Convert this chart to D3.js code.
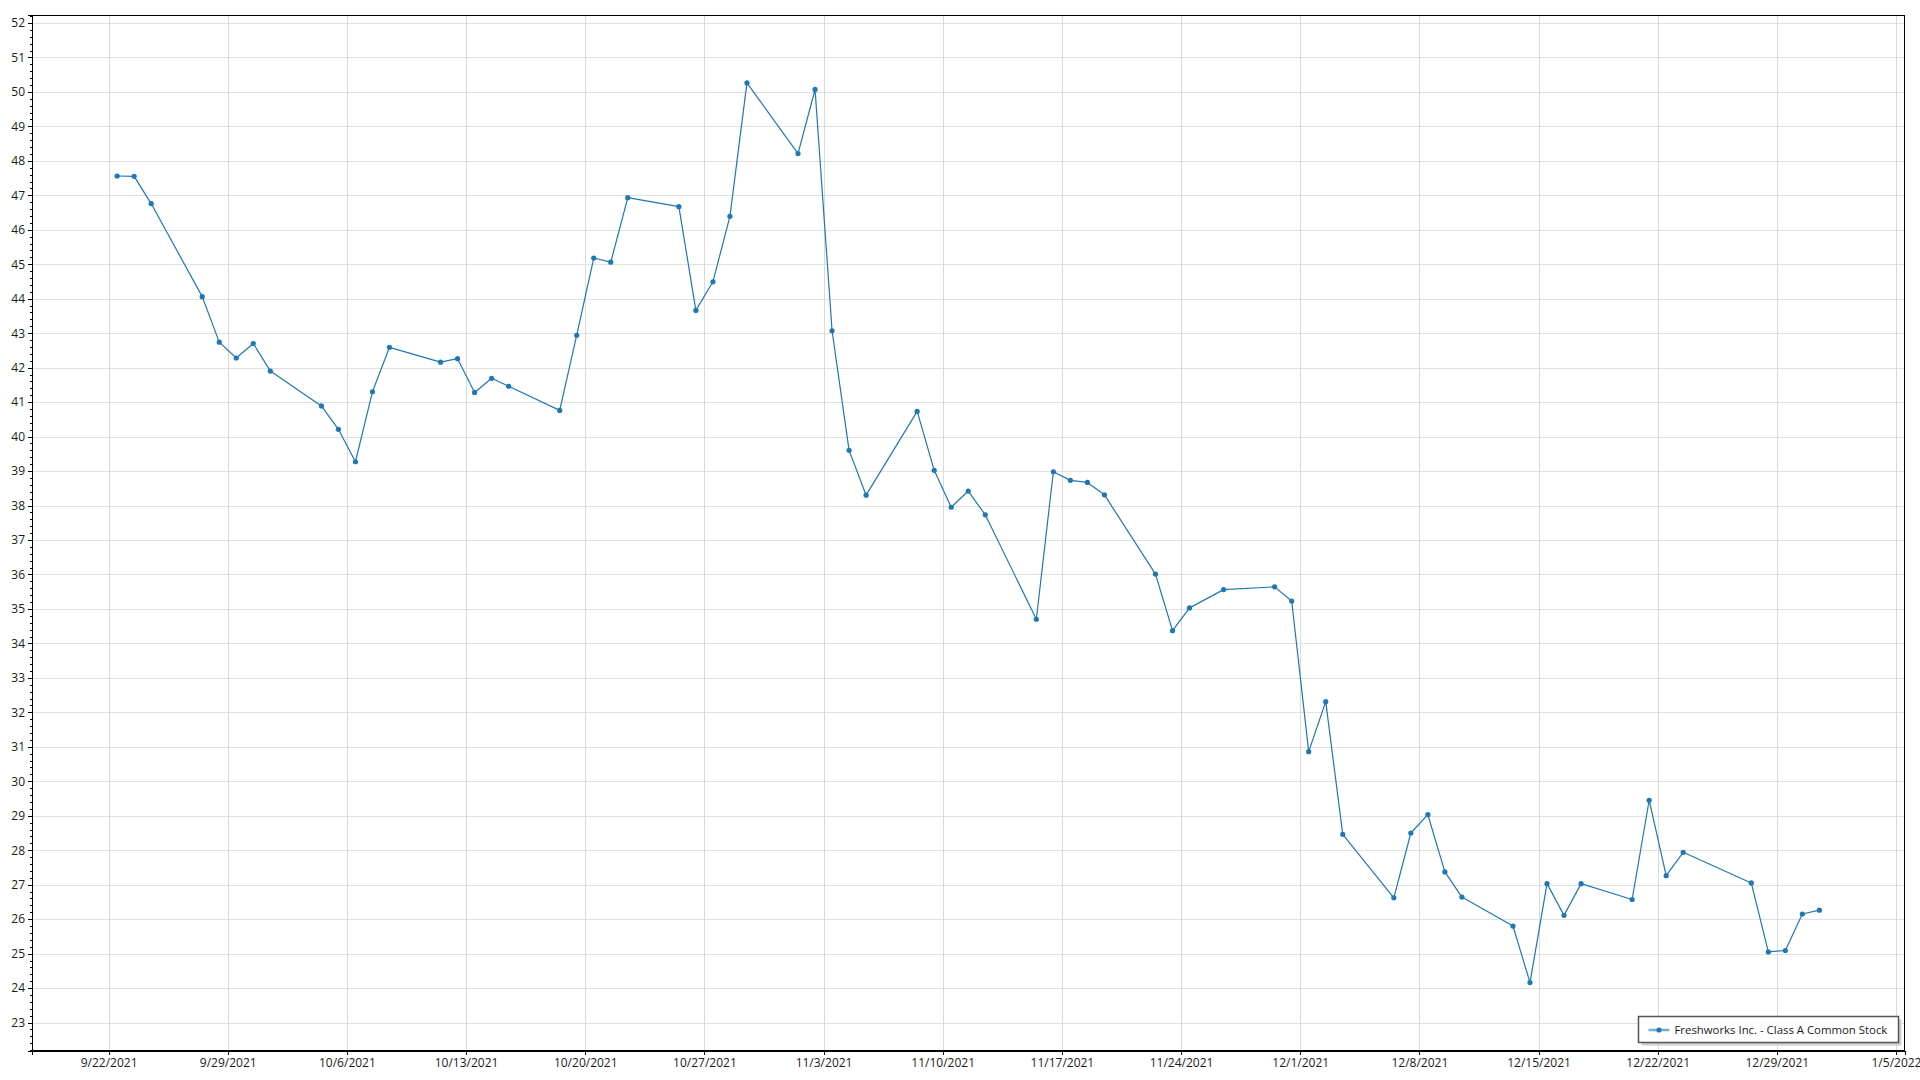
<!DOCTYPE html>
<html>
<head>
<meta charset="utf-8">
<script src="https://cdn.jsdelivr.net/npm/d3@7"></script>
<style>
  html, body { margin: 0; padding: 0; background: #fff; }
  svg { display: block; }
  text { font-family: "Segoe UI", "Open Sans", "Noto Sans", sans-serif; fill: #1a1a1a; }
</style>
</head>
<body>
<svg id="chart" width="1920" height="1080"></svg>
<script>
// ---- data ----
const seriesName = "Freshworks Inc. - Class A Common Stock";
const dates = [
  "2021-09-22","2021-09-23","2021-09-24","2021-09-27","2021-09-28","2021-09-29","2021-09-30","2021-10-01",
  "2021-10-04","2021-10-05","2021-10-06","2021-10-07","2021-10-08","2021-10-11","2021-10-12","2021-10-13",
  "2021-10-14","2021-10-15","2021-10-18","2021-10-19","2021-10-20","2021-10-21","2021-10-22","2021-10-25",
  "2021-10-26","2021-10-27","2021-10-28","2021-10-29","2021-11-01","2021-11-02","2021-11-03","2021-11-04",
  "2021-11-05","2021-11-08","2021-11-09","2021-11-10","2021-11-11","2021-11-12","2021-11-15","2021-11-16",
  "2021-11-17","2021-11-18","2021-11-19","2021-11-22","2021-11-23","2021-11-24","2021-11-26","2021-11-29",
  "2021-11-30","2021-12-01","2021-12-02","2021-12-03","2021-12-06","2021-12-07","2021-12-08","2021-12-09",
  "2021-12-10","2021-12-13","2021-12-14","2021-12-15","2021-12-16","2021-12-17","2021-12-20","2021-12-21",
  "2021-12-22","2021-12-23","2021-12-27","2021-12-28","2021-12-29","2021-12-30","2021-12-31"
];
const prices = [
  47.56, 47.55, 46.76, 44.06, 42.74, 42.28, 42.70, 41.90,
  40.89, 40.21, 39.27, 41.30, 42.59, 42.16, 42.26, 41.28,
  41.69, 41.46, 40.76, 42.94, 45.18, 45.06, 46.93, 46.67,
  43.66, 44.49, 46.39, 50.26, 48.21, 50.07, 43.07, 39.60,
  38.30, 40.73, 39.02, 37.95, 38.42, 37.73, 34.70, 38.98,
  38.73, 38.67, 38.31, 36.01, 34.37, 35.03, 35.56, 35.64,
  35.23, 30.86, 32.31, 28.46, 26.62, 28.50, 29.03, 27.37,
  26.64, 25.80, 24.16, 27.03, 26.11, 27.03, 26.57, 29.45,
  27.26, 27.94, 27.05, 25.05, 25.09, 26.15, 26.26
];
const xTickDates = [
  "2021-09-22","2021-09-29","2021-10-06","2021-10-13","2021-10-20","2021-10-27","2021-11-03","2021-11-10",
  "2021-11-17","2021-11-24","2021-12-01","2021-12-08","2021-12-15","2021-12-22","2021-12-29","2022-01-05"
];
const yTickValues = d3.range(23, 53, 1);

// ---- layout ----
const W = 1920, H = 1080;
const plot = { left: 32, top: 15, right: 1904.5, bottom: 1050.5 };
const color = "#1f77b4";

const parse = d3.timeParse("%Y-%m-%d");
const data = dates.map((d, i) => ({ t: d3.timeHour.offset(parse(d), 12), v: prices[i] }));

const tMin = d3.min(data, d => d.t), tMax = d3.max(data, d => d.t);
const tPad = (tMax - tMin) * 0.05;
const x = d3.scaleTime()
  .domain([new Date(+tMin - tPad), new Date(+tMax + tPad)])
  .range([plot.left, plot.right]);

const vMin = d3.min(prices), vMax = d3.max(prices);
const vPad = (vMax - vMin) * 0.0755;
const y = d3.scaleLinear()
  .domain([vMin - vPad, vMax + vPad])
  .range([plot.bottom, plot.top]);

const svg = d3.select("#chart");
svg.append("rect").attr("width", W).attr("height", H).attr("fill", "#fff");

// grid
const grid = svg.append("g").attr("shape-rendering", "crispEdges");
grid.selectAll("line.h").data(yTickValues).join("line")
  .attr("x1", plot.left).attr("x2", plot.right)
  .attr("y1", d => Math.round(y(d)) + 0.5).attr("y2", d => Math.round(y(d)) + 0.5)
  .attr("stroke", "#e1e1e1").attr("stroke-width", 1);
const xTicks = xTickDates.map(parse);
grid.selectAll("line.v").data(xTicks).join("line")
  .attr("x1", d => Math.round(x(d)) + 0.5).attr("x2", d => Math.round(x(d)) + 0.5)
  .attr("y1", plot.top).attr("y2", plot.bottom)
  .attr("stroke", "#dadada").attr("stroke-width", 1);

// plot border
svg.append("rect")
  .attr("x", plot.left).attr("y", plot.top)
  .attr("width", plot.right - plot.left).attr("height", plot.bottom - plot.top)
  .attr("fill", "none").attr("stroke", "#000").attr("stroke-width", 1)
  .attr("shape-rendering", "crispEdges");

// y axis
const yAxis = d3.axisLeft(y).tickValues(yTickValues).tickFormat(d3.format("d")).tickSize(4).tickPadding(3);
const gy = svg.append("g").attr("transform", `translate(${plot.left},0)`).call(yAxis);
gy.select(".domain").attr("stroke", "#000").attr("shape-rendering", "crispEdges");
gy.selectAll(".tick line").attr("stroke", "#000").attr("shape-rendering", "crispEdges");
gy.selectAll(".tick text").attr("font-size", 12).attr("font-family", null).style("fill", "#1a1a1a");
// minor ticks
const minorVals = d3.range(Math.ceil(y.domain()[0] * 5), Math.floor(y.domain()[1] * 5) + 1)
  .map(k => k / 5).filter(v => Math.abs(v - Math.round(v)) > 1e-6);
svg.append("g").attr("shape-rendering", "crispEdges").selectAll("line").data(minorVals).join("line")
  .attr("x1", plot.left - 2).attr("x2", plot.left)
  .attr("y1", d => Math.round(y(d)) + 0.5).attr("y2", d => Math.round(y(d)) + 0.5)
  .attr("stroke", "#000");

// x axis
const xAxis = d3.axisBottom(x).tickValues(xTicks).tickFormat(d3.timeFormat("%-m/%-d/%Y")).tickSize(4).tickPadding(4);
const gx = svg.append("g").attr("transform", `translate(0,${plot.bottom})`).call(xAxis);
gx.select(".domain").attr("stroke", "#000").attr("shape-rendering", "crispEdges");
gx.selectAll(".tick line").attr("stroke", "#000").attr("shape-rendering", "crispEdges");
gx.selectAll(".tick text").attr("font-size", 12).attr("font-family", null).style("fill", "#1a1a1a");

// series
const line = d3.line().x(d => x(d.t)).y(d => y(d.v));
svg.append("path").datum(data)
  .attr("d", line).attr("fill", "none")
  .attr("stroke", color).attr("stroke-width", 1.2).attr("stroke-linejoin", "round");
svg.append("g").selectAll("circle").data(data).join("circle")
  .attr("cx", d => x(d.t)).attr("cy", d => y(d.v)).attr("r", 2.6).attr("fill", color);

// legend
const lg = { x: 1638.5, y: 1016.5, w: 260, h: 26 };
svg.append("rect").attr("x", lg.x + 3).attr("y", lg.y + 3).attr("width", lg.w).attr("height", lg.h)
  .attr("fill", "#cfcfcf");
svg.append("rect").attr("x", lg.x).attr("y", lg.y).attr("width", lg.w).attr("height", lg.h)
  .attr("fill", "#fff").attr("stroke", "#555").attr("stroke-width", 1.5);
const ly = lg.y + lg.h / 2 + 0.5;
svg.append("line").attr("x1", lg.x + 10).attr("x2", lg.x + 31).attr("y1", ly).attr("y2", ly)
  .attr("stroke", color).attr("stroke-opacity", 0.6).attr("stroke-width", 2.5);
svg.append("circle").attr("cx", lg.x + 20.5).attr("cy", ly).attr("r", 2.6).attr("fill", color);
const lt = svg.append("text").attr("x", lg.x + 36).attr("y", ly).attr("dy", "0.35em")
  .attr("font-size", 12).text(seriesName);
// fit legend label into the available width of the box
const targetW = 213;
const w0 = lt.node().getComputedTextLength();
if (w0 > targetW) lt.attr("font-size", (12 * targetW / w0).toFixed(2));
</script>
</body>
</html>
